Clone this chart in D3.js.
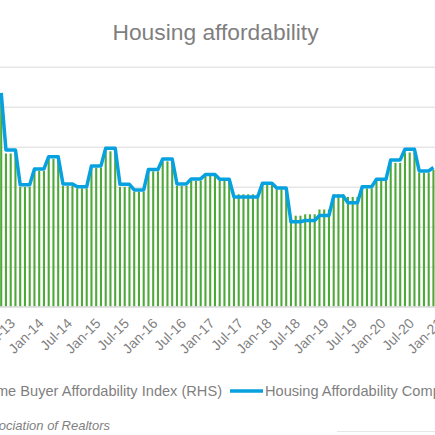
<!DOCTYPE html>
<html>
<head>
<meta charset="utf-8">
<script src="https://cdn.jsdelivr.net/npm/d3@7"></script>
<style>
  body { margin: 0; background: #fff; }
  svg { display: block; font-family: 'Liberation Sans', Arial, sans-serif; }
</style>
</head>
<body>
<svg id="chart" width="435" height="435"></svg>
<script>
// Housing affordability (cropped view of a wider chart)

const firstMonth = new Date(2013, 3, 1) // Apr-13, first month in view
const lastMonth = new Date(2021, 1, 1) // Feb-21, just past the right edge

const tickLabels = ['Jul-13', 'Jan-14', 'Jul-14', 'Jan-15', 'Jul-15', 'Jan-16', 'Jul-16', 'Jan-17',
  'Jul-17', 'Jan-18', 'Jul-18', 'Jan-19', 'Jul-19', 'Jan-20', 'Jul-20', 'Jan-21']

// Housing Affordability Composite Index (LHS), monthly from Apr-13
const composite = [
  206.9, 178.4, 178.4, 178.4, 161.0, 161.0, 161.0, 168.9, 168.9,
  168.9, 175.0, 175.0, 175.0, 161.4, 161.4, 161.4, 160.0, 160.0, 160.0, 170.4, 170.4,
  170.4, 179.2, 179.2, 179.2, 161.2, 161.2, 161.2, 158.4, 158.4, 158.4, 168.6, 168.6,
  168.6, 173.8, 173.8, 173.8, 161.4, 161.4, 161.4, 163.9, 163.9, 163.9, 166.1, 166.1,
  166.1, 163.7, 163.7, 163.7, 154.9, 154.9, 154.9, 154.9, 154.9, 154.9, 161.7, 161.7,
  161.7, 159.4, 159.4, 159.4, 142.5, 142.5, 142.5, 143.1, 143.1, 143.1, 145.6, 145.6,
  145.6, 155.4, 155.4, 155.4, 152.0, 152.0, 152.0, 160.0, 160.0, 160.0, 163.7, 163.7,
  163.7, 173.4, 173.4, 173.4, 178.7, 178.7, 178.7, 167.9, 167.9, 167.9, 169.6
]

// First-Time Home Buyer Affordability Index (RHS), monthly from Apr-13
const firstTime = [
  163.0, 136.6, 136.6, 136.6, 119.9, 119.9, 119.9, 127.9, 127.9,
  127.9, 133.9, 133.9, 133.9, 120.4, 120.4, 120.4, 119.2, 119.2, 119.2, 129.5, 129.5,
  129.5, 137.7, 137.7, 137.7, 119.9, 119.9, 119.9, 117.5, 117.5, 117.5, 127.7, 127.7,
  127.7, 132.7, 132.7, 132.7, 120.4, 120.4, 120.4, 123.0, 123.0, 123.0, 125.4, 125.4,
  125.4, 122.9, 122.9, 122.9, 116.2, 116.2, 116.2, 116.2, 116.2, 116.2, 120.9, 120.9,
  120.9, 118.7, 118.7, 118.7, 105.5, 105.5, 105.5, 106.2, 106.2, 106.2, 108.6, 108.6,
  108.6, 116.2, 116.2, 116.2, 114.9, 114.9, 114.9, 119.2, 119.2, 119.2, 123.4, 123.4,
  123.4, 131.9, 131.9, 131.9, 137.1, 137.1, 137.1, 127.0, 127.0, 127.0, 128.4
]

const leftDomain = [100, 220]
const rightDomain = [60, 180]

const WIDTH = 435
const PLOT_TOP = 66.7
const PLOT_BOTTOM = 306.7
const STEP = 4.75
const TEXT = '#7f7f7f'
const GRID = '#d9d9d9'
const GREEN = '#4ea83a'
const BLUE = '#07a1df'

const fmt = d3.timeFormat('%b-%y')
const months = d3.timeMonth.range(firstMonth, d3.timeMonth.offset(lastMonth, 1)).map(fmt)

const svg = d3.select('#chart')

const x0 = 1.2 - STEP / 2
const x = d3.scaleBand()
  .domain(months)
  .range([x0, x0 + months.length * STEP])
  .paddingInner(0.56)
  .paddingOuter(0.28)
const cx = (key) => x(key) + x.bandwidth() / 2

const yLeft = d3.scaleLinear().domain(leftDomain).range([PLOT_BOTTOM, PLOT_TOP])
const yRight = d3.scaleLinear().domain(rightDomain).range([PLOT_BOTTOM, PLOT_TOP])

// title
svg.append('text')
  .attr('x', 215.5)
  .attr('y', 32)
  .attr('text-anchor', 'middle')
  .attr('dominant-baseline', 'central')
  .attr('font-size', '22.8px')
  .attr('fill', TEXT)
  .text('Housing affordability')

// gridlines from the left axis
const grid = svg.append('g')
  .attr('class', 'grid')
  .call(d3.axisLeft(yLeft).ticks(6).tickSize(-WIDTH).tickFormat(''))
grid.select('.domain').remove()
grid.selectAll('line').attr('stroke', GRID).attr('stroke-width', 1)

// bars (RHS)
const barData = firstTime.map((v, i) => ({ key: months[i], value: v }))
svg.append('g')
  .selectAll('rect')
  .data(barData)
  .join('rect')
  .attr('x', (d) => x(d.key))
  .attr('width', x.bandwidth())
  .attr('y', (d) => yRight(d.value))
  .attr('height', (d) => PLOT_BOTTOM - yRight(d.value))
  .attr('fill', GREEN)

// line (LHS)
const lineData = composite.map((v, i) => ({ key: months[i], value: v }))
const line = d3.line()
  .x((d) => cx(d.key))
  .y((d) => yLeft(d.value))
svg.append('path')
  .datum(lineData)
  .attr('d', line)
  .attr('fill', 'none')
  .attr('stroke', BLUE)
  .attr('stroke-width', 3.5)
  .attr('stroke-linejoin', 'round')

// x axis line and rotated labels
svg.append('line')
  .attr('x1', 0).attr('x2', WIDTH)
  .attr('y1', PLOT_BOTTOM).attr('y2', PLOT_BOTTOM)
  .attr('stroke', GRID)

svg.append('g')
  .selectAll('text')
  .data(tickLabels)
  .join('text')
  .attr('transform', (d) => `translate(${cx(d) - 3},${PLOT_BOTTOM + 14}) rotate(-45)`)
  .attr('text-anchor', 'end')
  .attr('dominant-baseline', 'central')
  .attr('font-size', '14px')
  .attr('fill', TEXT)
  .text((d) => d)

// legend
const legendY = 391
svg.append('text')
  .attr('x', 222)
  .attr('y', legendY)
  .attr('text-anchor', 'end')
  .attr('dominant-baseline', 'central')
  .attr('font-size', '14.6px')
  .attr('fill', TEXT)
  .text('First-Time Home Buyer Affordability Index (RHS)')

svg.append('line')
  .attr('x1', 230).attr('x2', 263)
  .attr('y1', legendY).attr('y2', legendY)
  .attr('stroke', BLUE)
  .attr('stroke-width', 3.5)

svg.append('text')
  .attr('x', 265)
  .attr('y', legendY)
  .attr('dominant-baseline', 'central')
  .attr('font-size', '14.6px')
  .attr('fill', TEXT)
  .text('Housing Affordability Composite Index (LHS)')

// source
svg.append('text')
  .attr('x', 110)
  .attr('y', 430)
  .attr('text-anchor', 'end')
  .attr('font-size', '13px')
  .attr('font-style', 'italic')
  .attr('fill', TEXT)
  .text('Source: National Association of Realtors')

svg.append('line')
  .attr('x1', 337).attr('x2', WIDTH)
  .attr('y1', 431.5).attr('y2', 431.5)
  .attr('stroke', '#e6e6e6')
</script>
</body>
</html>
